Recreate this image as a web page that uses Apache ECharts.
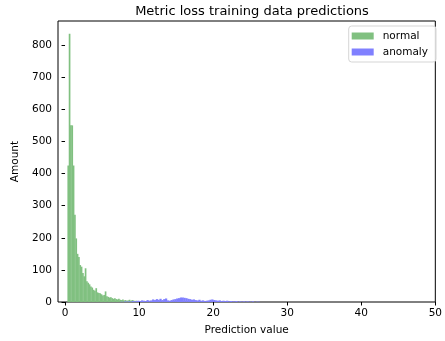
<!DOCTYPE html>
<html><head><meta charset="utf-8">
<script src="https://cdn.jsdelivr.net/npm/echarts@6/dist/echarts.min.js"></script>
<style>html,body{margin:0;padding:0;background:#fff}#c{width:445px;height:341px}</style>
</head><body><div id="c"></div>
<script>
// ---- data ----
var normalBinStart = 0.32;
var normalBinWidth = 0.18;
var normalCounts = [425, 835, 550, 550, 425, 272, 198, 150, 140, 115, 110, 90, 80, 105,
  65, 60, 55, 48, 45, 38, 35, 43, 30, 28, 27, 24, 20, 22, 33, 18, 16, 14, 15, 12, 10, 12,
  9, 8, 10, 7, 6, 8, 5, 6, 4, 5, 7, 4, 6, 5, 3, 4, 2, 2];
var anomalyBinStart = 7.5;
var anomalyBinWidth = 0.25;
var anomalyCounts = [1, 0, 2, 1, 2, 1, 3, 2, 3, 4,
  3, 5, 4, 3, 6, 4, 5, 8, 6, 9,
  7, 10, 6, 9, 11, 5, 4, 6, 8, 9,
  11, 12, 14, 14, 13, 12, 10, 9, 7, 8,
  6, 5, 7, 4, 5, 3, 4, 5, 7, 8,
  6, 5, 4, 5, 3, 4, 3, 4, 2, 3,
  2, 2, 3, 1, 2, 1, 2, 1, 2, 1,
  1, 2, 0, 1, 1];
var xTicks = [0, 10, 20, 30, 40, 50];
var yTicks = [0, 100, 200, 300, 400, 500, 600, 700, 800];
var seriesNames = ['normal', 'anomaly'];
var titleText = 'Metric loss training data predictions';
var xLabel = 'Prediction value';
var yLabel = 'Amount';

function bins(start, width, counts) {
  return counts.map(function (c, i) {
    return [start + i * width, start + (i + 1) * width, c];
  });
}
function renderBar(params, api) {
  var p0 = api.coord([api.value(0), api.value(2)]);
  var p1 = api.coord([api.value(1), 0]);
  return {
    type: 'rect',
    shape: { x: p0[0], y: p0[1], width: p1[0] - p0[0] + 0.35, height: p1[1] - p0[1] },
    style: { fill: api.visual('color') }
  };
}

var FONT = 'DejaVu Sans';
var chart = echarts.init(document.getElementById('c'), null, { renderer: 'canvas' });
chart.setOption({
  animation: false,
  backgroundColor: '#fff',
  textStyle: { fontFamily: FONT },
  title: {
    text: titleText, left: 247, top: 0, textAlign: 'center',
    textStyle: { fontFamily: FONT, fontSize: 13, fontWeight: 'normal', color: '#000' }
  },
  legend: {
    orient: 'vertical', right: 9, top: 26,
    data: seriesNames,
    icon: 'rect', itemWidth: 22, itemHeight: 7, itemGap: 4,
    padding: [4, 8, 4, 3],
    borderColor: '#d5d5d5', borderWidth: 1, borderRadius: 3,
    backgroundColor: 'rgba(255,255,255,0.8)',
    textStyle: { fontFamily: FONT, fontSize: 10.5, color: '#000', lineHeight: 12, padding: [0, 0, 0, 4] }
  },
  grid: { left: 58, right: 8, top: 21, bottom: 37, show: true, borderColor: '#000', borderWidth: 1, backgroundColor: 'transparent' },
  xAxis: {
    type: 'value', min: -0.95, max: 50,
    name: xLabel, nameLocation: 'middle', nameGap: 23,
    nameTextStyle: { fontFamily: FONT, fontSize: 10.5, color: '#000' },
    axisLine: { show: false },
    axisTick: { show: true, length: 3.5, customValues: xTicks, lineStyle: { color: '#000' } },
    axisLabel: { customValues: xTicks, fontFamily: FONT, fontSize: 10.5, color: '#000', margin: 6 },
    splitLine: { show: false }
  },
  yAxis: {
    type: 'value', min: 0, max: 875,
    name: yLabel, nameLocation: 'middle', nameGap: 34, nameRotate: 90,
    nameTextStyle: { fontFamily: FONT, fontSize: 10.5, color: '#000' },
    axisLine: { show: false },
    axisTick: { show: true, length: 3.5, customValues: yTicks, lineStyle: { color: '#000' } },
    axisLabel: { customValues: yTicks, fontFamily: FONT, fontSize: 10.5, color: '#000', margin: 6 },
    splitLine: { show: false }
  },
  series: [
    {
      name: seriesNames[0], type: 'custom', renderItem: renderBar,
      itemStyle: { color: 'rgb(128,192,128)' },
      encode: { x: [0, 1], y: 2 },
      data: bins(normalBinStart, normalBinWidth, normalCounts)
    },
    {
      name: seriesNames[1], type: 'custom', renderItem: renderBar,
      itemStyle: { color: 'rgb(128,128,255)' },
      encode: { x: [0, 1], y: 2 },
      data: bins(anomalyBinStart, anomalyBinWidth, anomalyCounts)
    }
  ]
});
</script></body></html>
